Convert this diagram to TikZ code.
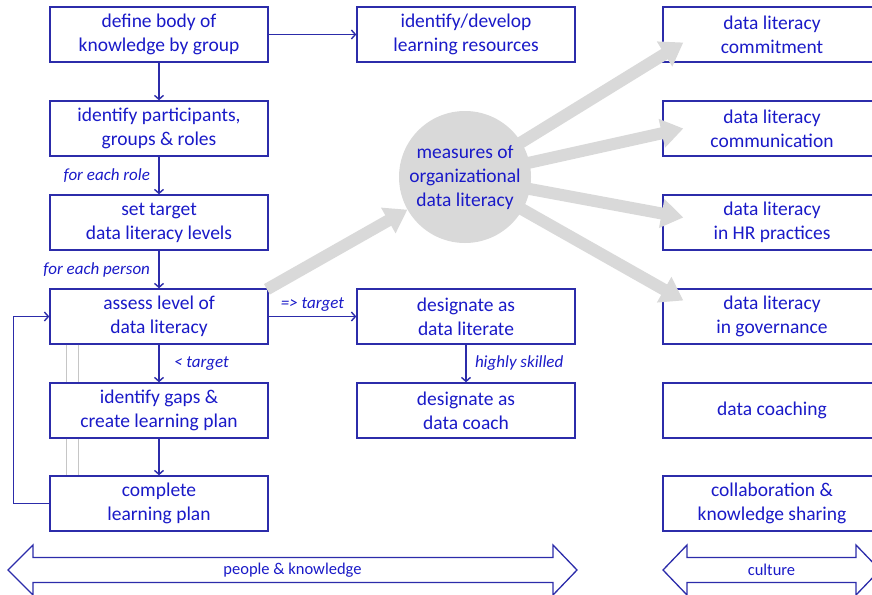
\documentclass[tikz,border=0pt]{standalone}
\usepackage{fontspec}
\setmainfont{Carlito}
\usepackage{tikz}
\usetikzlibrary{arrows.meta,calc,positioning}

\definecolor{txtblue}{RGB}{26,26,200}
\definecolor{lnblue}{RGB}{44,44,170}

\begin{document}
\begin{tikzpicture}[x=1pt, y=-1pt,
  every node/.style={font=\fontsize{19.5}{24}\selectfont, text=txtblue},
  stepbox/.style={draw=lnblue, line width=1.4pt, fill=white, minimum width=218pt,
    minimum height=55pt, inner sep=0pt, align=center},
  flow/.style={-{Straight Barb[length=4pt,width=9pt]}, lnblue, line width=1.4pt},
  lbl/.style={font=\fontsize{17}{19}\selectfont\itshape, inner sep=0pt, outer sep=9pt},
  fat/.style={-{Triangle[length=22pt,width=28pt]}, gray!30, line width=12pt},
  band/.style={draw=lnblue, line width=1.3pt, fill=white}]
  \clip (0,0) rectangle (872,594);
  % left column
  \node[stepbox] (body) at (159,34.5) {define body of\\knowledge by group};
  \node[stepbox] (part) at (159,128.5) {identify participants,\\groups \& roles};
  \node[stepbox] (target) at (159,222.5) {set target\\data literacy levels};
  \node[stepbox] (assess) at (159,316.5) {assess level of\\data literacy};
  \node[stepbox] (gaps) at (159,410.5) {identify gaps \&\\create learning plan};
  \node[stepbox] (plan) at (159,503.5) {complete\\learning plan};
  % middle column
  \node[stepbox] (res) at (466,34.5) {identify/develop\\learning resources};
  \node[stepbox] (lit) at (466,316.5) {designate as\\data literate};
  \node[stepbox] (coach) at (466,410.5) {designate as\\data coach};
  \node[circle, fill=gray!30, minimum size=132pt, inner sep=0pt, align=center] (meas)
    at (465,177) {measures of\\organizational\\data literacy};
  % right column
  \node[stepbox] (commit) at (772,34.5) {data literacy\\commitment};
  \node[stepbox] (comm) at (772,128.5) {data literacy\\communication};
  \node[stepbox] (hr) at (772,222.5) {data literacy\\in HR practices};
  \node[stepbox] (gov) at (772,316.5) {data literacy\\in governance};
  \node[stepbox] (dcoach) at (772,410.5) {data coaching};
  \node[stepbox] (share) at (772,503.5) {collaboration \&\\knowledge sharing};

  \draw[flow] (body) -- (part);
  \draw[flow] (body) -- (res);
  \draw[flow] (part) -- node[lbl, left] {for each role} (target);
  \draw[flow] (target) -- node[lbl, left] {for each person} (assess);
  \draw[flow] (assess) -- node[lbl, right, xshift=6pt] {< target} (gaps);
  \draw[flow] (gaps) -- (plan);
  \draw[flow] (assess) -- node[lbl, above, outer sep=5pt] {=> target} (lit);
  \draw[flow] (lit) -- node[lbl, right] {highly skilled} (coach);
  \draw[flow] (plan.west) -- ++(-36,0) |- (assess.west);
  \foreach \dx in {17,29} {
    \draw[gray!45, line width=0.8pt] ($(assess.south west)+(\dx,0)$) -- ($(gaps.north west)+(\dx,0)$);
    \draw[gray!45, line width=0.8pt] ($(gaps.south west)+(\dx,0)$) -- ($(plan.north west)+(\dx,0)$);
  }

  % measures arrows
  \draw[fat, shorten <=-2pt] (assess.north east) -- (meas);
  \foreach \t/\dy in {commit/8,comm/0,hr/-5,gov/-16} {
    \draw[fat, shorten <=-10pt] (meas) -- ($(\t.west)+(21,\dy)$);
  }

  % bottom bands
  \draw[band] (8,570) -- (33,545) -- (33,557.5) -- (553,557.5) -- (553,545) -- (577,570)
    -- (553,595) -- (553,582.5) -- (33,582.5) -- (33,595) -- cycle;
  \node[font=\fontsize{16.5}{18}\selectfont] (people) at (292.5,570) {people \& knowledge};
  \draw[band] (663,570) -- (687,545) -- (687,557.5) -- (856,557.5) -- (856,545) -- (880,570)
    -- (856,595) -- (856,582.5) -- (687,582.5) -- (687,595) -- cycle;
  \node[font=\fontsize{16.5}{18}\selectfont] (cult) at (771.5,570) {culture};
\end{tikzpicture}
\end{document}
